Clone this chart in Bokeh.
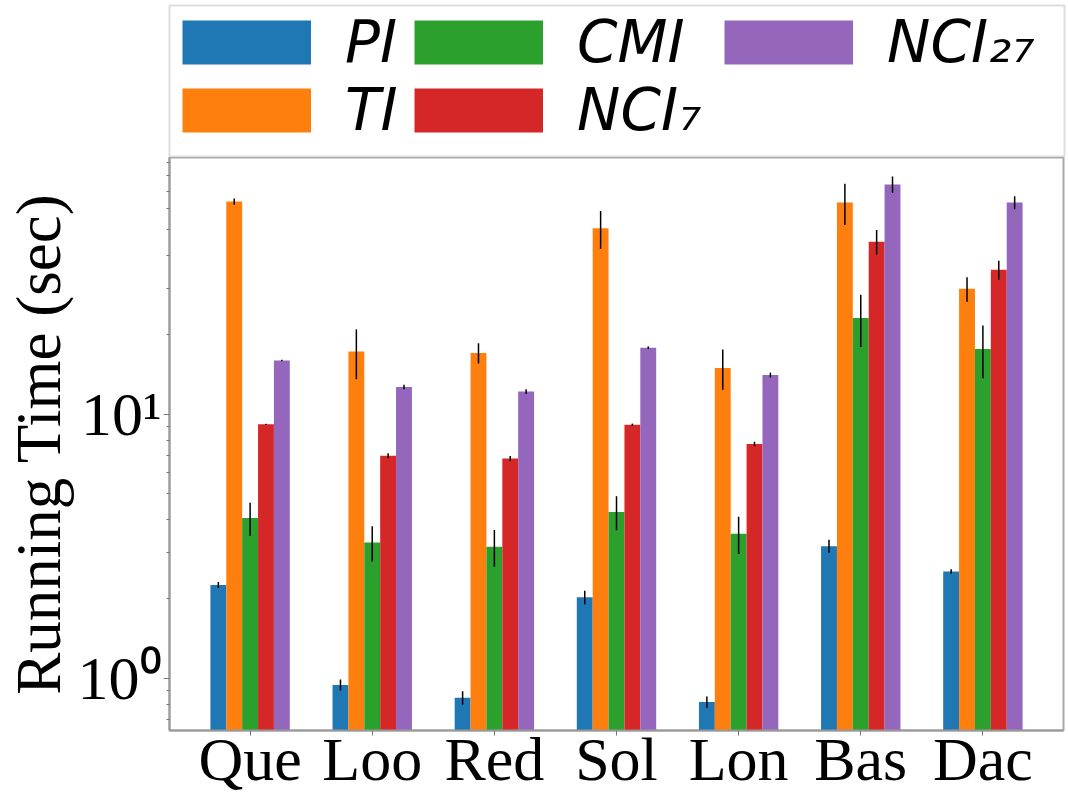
from bokeh.plotting import figure
from bokeh.layouts import column
from bokeh.models import (Range1d, FixedTicker, CustomJSTickFormatter, Legend,
                          LegendItem)
from bokeh.embed import file_html
from bokeh.resources import INLINE

categories = ["Que", "Loo", "Red", "Sol", "Lon", "Bas", "Dac"]
series_names = ["PI", "TI", "CMI", "NCI\u2087", "NCI\u2082\u2087"]
series_colors = ["#1f77b4", "#ff7f0e", "#2ca02c", "#d62728", "#9467bd"]

pi = [2.26, 0.945, 0.845, 2.03, 0.815, 3.17, 2.54]
pi_err = [0.06, 0.045, 0.05, 0.12, 0.04, 0.18, 0.05]
ti = [64.0, 17.3, 17.1, 50.7, 15.0, 63.5, 29.9]
ti_err = [1.8, 3.7, 1.5, 8.3, 2.6, 11.3, 3.2]
cmi = [4.05, 3.27, 3.15, 4.27, 3.53, 23.2, 17.7]
cmi_err = [0.58, 0.5, 0.5, 0.63, 0.57, 5.2, 4.0]
nci7 = [9.17, 6.98, 6.81, 9.13, 7.73, 45.1, 35.3]
nci7_err = [0.05, 0.15, 0.15, 0.1, 0.15, 4.8, 2.9]
nci27 = [16.0, 12.7, 12.2, 17.9, 14.1, 74.3, 63.5]
nci27_err = [0.1, 0.25, 0.25, 0.2, 0.3, 5.3, 3.6]

series_values = [pi, ti, cmi, nci7, nci27]
series_errors = [pi_err, ti_err, cmi_err, nci7_err, nci27_err]

y_major_ticks = [1, 10]
y_minor_ticks = [0.7, 0.8, 0.9, 2, 3, 4, 5, 6, 7, 8, 9, 20, 30, 40, 50, 60, 70, 80, 90]

# legend grid: (column, row) of each series' entry
legend_slots = [(0, 0), (0, 1), (1, 0), (1, 1), (2, 0)]

bar_w = 0.13
n = len(series_names)
FW, FH = 894, 573
LEFT = 169
LG_H = 152

# ---- main chart ----
p = figure(frame_width=FW, frame_height=FH, y_axis_type="log",
           x_range=Range1d(-0.66, 6.66), y_range=Range1d(0.635, 94),
           output_backend="svg", toolbar_location=None,
           min_border=0, min_border_right=5, min_border_top=0,
           min_border_left=LEFT)
p.title.visible = False

# ---- legend strip above the chart (its frame outline is the legend box) ----
lg = figure(frame_width=FW + 1, frame_height=LG_H, x_range=Range1d(0, 1),
            y_range=Range1d(0, 1), output_backend="svg", toolbar_location=None,
            x_axis_location=None, y_axis_location=None,
            min_border=0, min_border_left=LEFT - 1, min_border_right=4,
            min_border_top=5)
lg.title.visible = False
lg.outline_line_color = "#dddddd"
lg.outline_line_width = 2
lg.xgrid.visible = False
lg.ygrid.visible = False

ITEM_H = 70
col_x = [13, 245, 555]
row_center = [37, 105]

for k in range(n):
    off = (k - (n - 1) / 2) * bar_w
    xs = [i + off for i in range(len(categories))]
    p.vbar(x=xs, top=series_values[k], bottom=0.01, width=bar_w,
           fill_color=series_colors[k], line_color=None)
    lo = [v - e for v, e in zip(series_values[k], series_errors[k])]
    hi = [v + e for v, e in zip(series_values[k], series_errors[k])]
    p.segment(x0=xs, x1=xs, y0=lo, y1=hi, line_color="black", line_width=1.5)
    # legend swatch: a thick line, kept outside the strip's visible range
    sw = lg.line(x=[-2, -1], y=[0.5, 0.5], line_width=44, line_cap="butt",
                 line_color=series_colors[k])
    c, r = legend_slots[k]
    vy = LG_H - (row_center[r] - ITEM_H / 2.0) - ITEM_H
    leg = Legend(items=[LegendItem(label=series_names[k], renderers=[sw])],
                 orientation="vertical", location=(col_x[c], vy),
                 margin=0, padding=0, spacing=0,
                 label_text_font="DejaVu Sans", label_text_font_style="italic",
                 label_text_font_size="58px", label_text_color="black",
                 label_standoff=34, label_height=ITEM_H,
                 glyph_width=129, glyph_height=ITEM_H,
                 border_line_color=None, background_fill_alpha=0.0)
    lg.add_layout(leg, "center")

p.xgrid.visible = False
p.ygrid.visible = False
p.outline_line_color = "#aaaaaa"
p.outline_line_width = 2

xa = p.xaxis[0]
xa.ticker = FixedTicker(ticks=list(range(len(categories))))
xa.major_label_overrides = {i: c for i, c in enumerate(categories)}
xa.major_label_text_font = "Liberation Serif"
xa.major_label_text_font_size = "62px"
xa.major_label_text_color = "black"
xa.major_label_standoff = -11
xa.major_tick_out = 5
xa.major_tick_in = 0
xa.minor_tick_out = 0
xa.axis_line_color = "#999999"
xa.axis_line_width = 2
xa.major_tick_line_color = "#777777"

ya = p.yaxis[0]
ya.ticker = FixedTicker(ticks=y_major_ticks, minor_ticks=y_minor_ticks)
ya.formatter = CustomJSTickFormatter(code="""
const sup = {"0": "\u2070", "1": "\u00b9", "2": "\u00b2", "3": "\u00b3", "-": "\u207b"};
const e = Math.round(Math.log10(tick)).toString();
let s = "";
for (const ch of e) { s += sup[ch]; }
return "10" + s;
""")
ya.major_label_text_font = "Liberation Serif"
ya.major_label_text_font_size = "62px"
ya.major_label_text_color = "black"
ya.major_label_standoff = 2
ya.major_tick_out = 6
ya.major_tick_in = 0
ya.minor_tick_out = 3
ya.minor_tick_in = 0
ya.axis_line_color = "#999999"
ya.axis_line_width = 2
ya.major_tick_line_color = "#777777"
ya.minor_tick_line_color = "#777777"
ya.axis_label = "Running Time (sec)"
ya.axis_label_text_font = "Liberation Serif"
ya.axis_label_text_font_style = "normal"
ya.axis_label_text_font_size = "63px"
ya.axis_label_text_color = "black"
ya.axis_label_standoff = 1

layout = column(lg, p, spacing=0)
open("out.html", "w").write(file_html(layout, INLINE))
